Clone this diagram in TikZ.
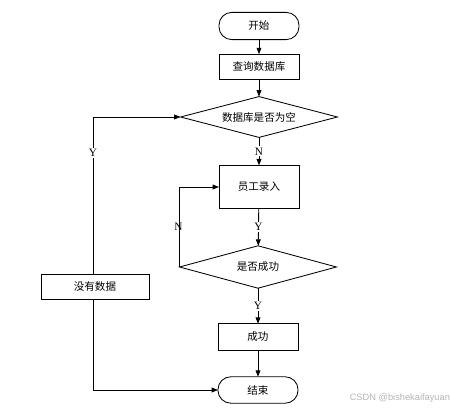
\documentclass[tikz,border=0pt]{standalone}
\usepackage{fontspec}
\setmainfont{Liberation Serif}
\newfontfamily\cjk{Noto Sans CJK SC}
\newfontfamily\marksans{Liberation Sans}
\usetikzlibrary{arrows.meta,shapes.geometric}
\definecolor{flowGray}{HTML}{B4B4B4}
\tikzset{
  flow chart/.style={
    x=0.025cm, y=-0.025cm, line width=0.6pt,
    >={Triangle[length=0.16cm,width=0.12cm]},
    every node/.style={font=\cjk\fontsize{7.5}{9}\selectfont,
      inner sep=0pt, outer sep=0pt}
  },
  flow term/.style={draw, rectangle, rounded corners=0.32cm,
    minimum width=2cm, minimum height=0.68cm},
  flow box/.style={draw, rectangle, minimum width=2cm, minimum height=0.64cm},
  flow test/.style={draw, diamond, aspect=3.9,
    minimum width=3.92cm, minimum height=1.02cm},
  flow mark/.style={font=\fontsize{8}{9}\selectfont, fill=white, inner sep=1pt}
}
\begin{document}
\begin{tikzpicture}[flow chart]
    \useasboundingbox (0,0) rectangle (450,412);
    \node[flow term] (start) at (259,26) {开始};
    \node[flow box] (query) at (259,67) {查询数据库};
    \node[flow test] (empty) at (259,117) {数据库是否为空};
    \node[flow box, minimum height=1.08cm] (entry) at (259,187) {员工录入};
    \node[flow test, minimum height=1.06cm] (check) at (258,267) {是否成功};
    \node[flow box, minimum width=2.7cm] (nodata) at (95,287) {没有数据};
    \node[flow box, minimum height=0.66cm] (success) at (258,337) {成功};
    \node[flow term, minimum height=0.66cm] (finish) at (258,390) {结束};
    % main line
    \draw[->] (start) -- (query);
    \draw[->] (query) -- (empty);
    \draw[->] (empty) -- node[flow mark] {N} (entry);
    \draw[->] (entry) -- node[flow mark] {Y} (check);
    \draw[->] (check) -- node[flow mark] {Y} (success);
    \draw[->] (success) -- (finish);
    % side branches
    \draw[->] (check.west) |- node[pos=0.25, left, font=\fontsize{8}{9}\selectfont, xshift=2pt] {N} (entry.west);
    \draw[->] (nodata.north -| 93,0) |- node[flow mark, pos=0.385] {Y} (empty.west);
    \draw[->] (nodata.south -| 93,0) |- (finish.west);
    \node[anchor=east, text=flowGray, font=\marksans\fontsize{6.6}{8}\selectfont] (mark) at (450,398) {CSDN @bishekaifayuan};
\end{tikzpicture}
\end{document}
